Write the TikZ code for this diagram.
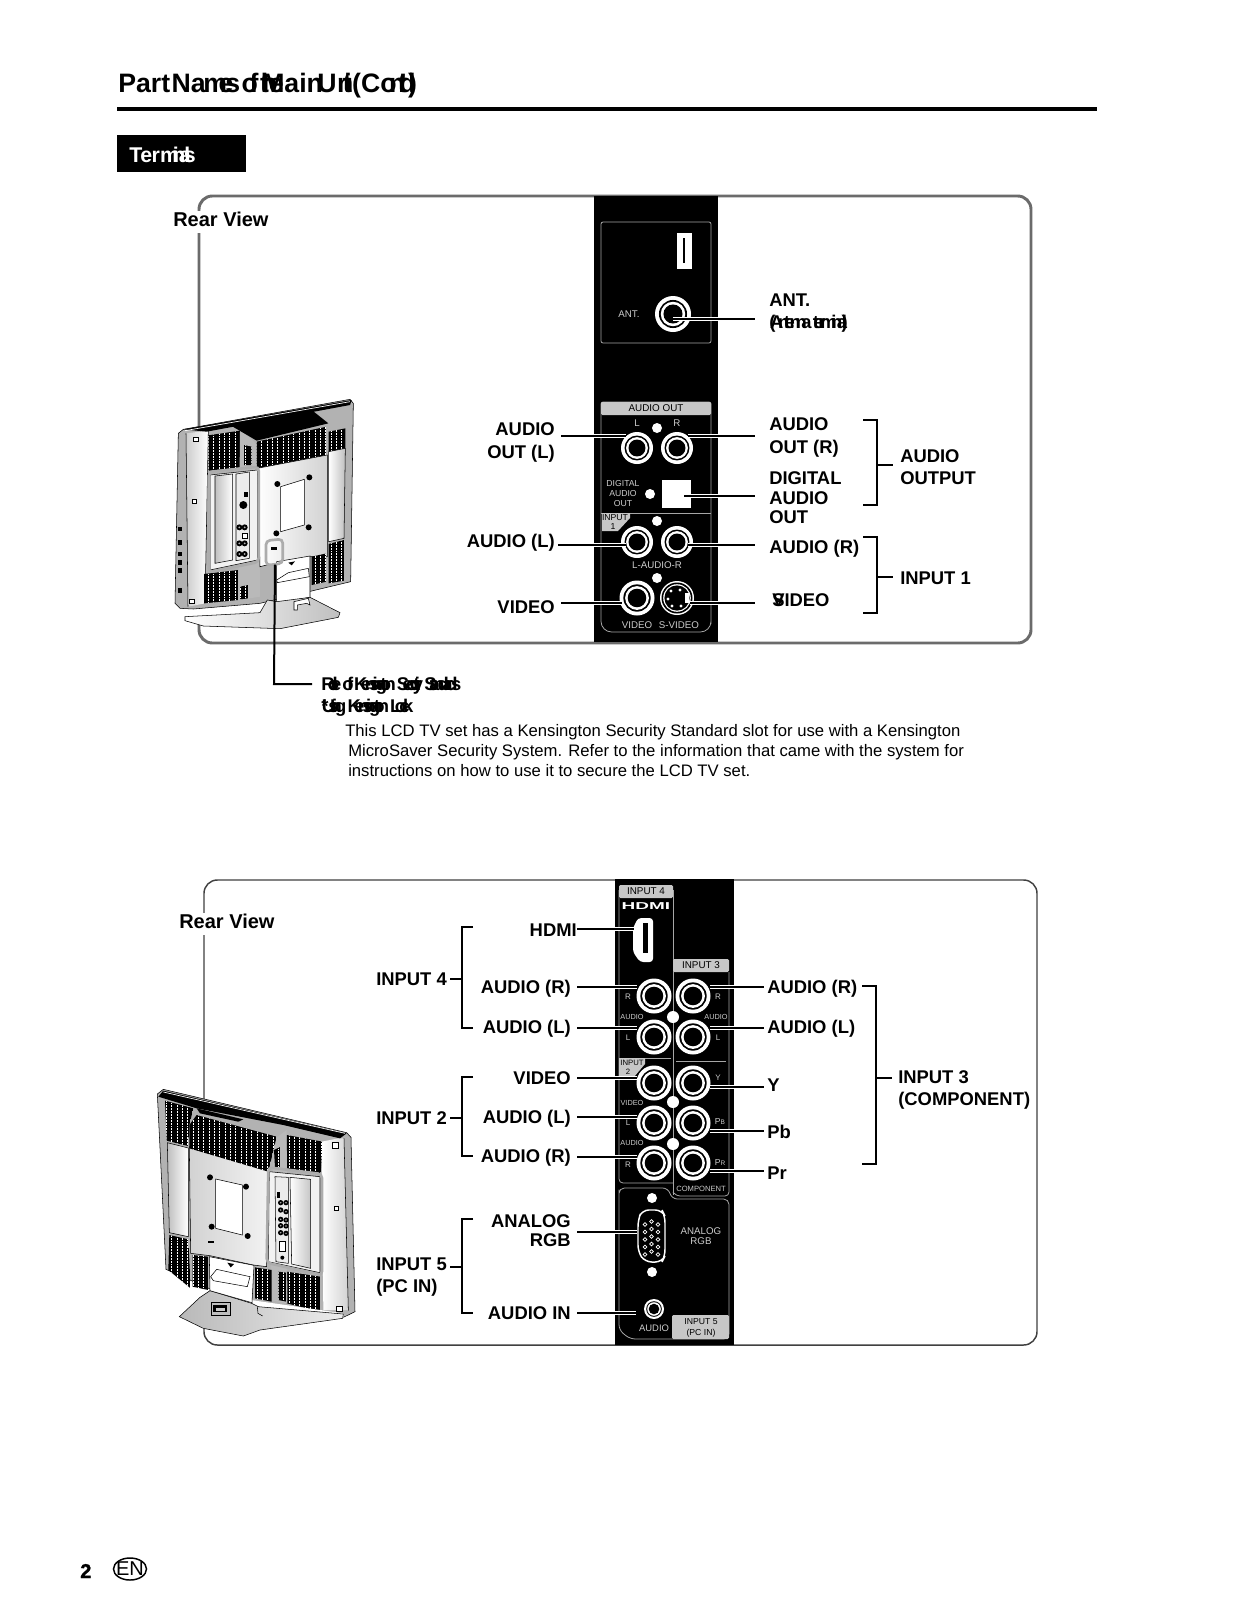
\documentclass[tikz,border=0pt]{standalone}
\usepackage{fontspec}
\usepackage{graphicx}
\setmainfont{Liberation Sans}
\newlength{\pxu}\setlength{\pxu}{.75pt}
\newcommand\seg[3]{\makebox[#1\pxu][l]{\addfontfeature{LetterSpace=#2}\spaceskip=.06em #3}}
\definecolor{frameg}{gray}{.42}
\definecolor{hdr}{gray}{.78}
\definecolor{ptxt}{gray}{.8}
\tikzset{
 lab/.style={font=\bfseries\fontsize{13.8}{16}\selectfont,inner sep=0,anchor=base west},
 labr/.style={lab,anchor=base east},
 ptx/.style={font=\fontsize{7.3}{8}\selectfont,text=ptxt,inner sep=0,anchor=center},
 pts/.style={ptx,font=\fontsize{6}{6}\selectfont},
 ptk/.style={font=\fontsize{7.4}{8}\selectfont,text=black,inner sep=0,anchor=center},
 pline/.style={draw=gray!70,line width=.6pt},
 lead/.style={line width=1.5pt,black},
 halo/.style={line width=3.2pt,white},
 brk/.style={line width=1.5pt,black},
 tvl/.style={line width=.4pt,black},
 hl/.style={draw=gray!65,line width=1.6pt,rounded corners=2pt},
}
\newcommand\jack[4]{\coordinate (#1) at (#2,#3);
 \fill[white] (#1) circle[radius=#4];
 \fill[black] (#1) circle[radius=.78*#4];
 \fill[white] (#1) circle[radius=.68*#4];
 \fill[black] (#1) circle[radius=.53*#4];}
\newcommand\dotw[3]{\coordinate (#1) at (#2,#3); \fill[white] (#1) circle[radius=5];}
\newcommand\conn[4]{\coordinate (#1a) at (#2,#4); \coordinate (#1b) at (#3,#4);
 \draw[halo] (#1a)--(#1b); \draw[lead] (#1a)--(#1b);}
\newcommand\brkR[6]{\coordinate (#1t) at (#2,#4); \coordinate (#1b) at (#2,#5); \coordinate (#1m) at (#3,#6);
 \draw[brk,line join=miter] (#1t)--++(14,0)--++(0,#5-#4)--(#1b);
 \draw[brk] (#3,#6)--++(16,0);}
\newcommand\brkL[5]{\coordinate (#1t) at (473,#2); \coordinate (#1b) at (473,#3);
 \draw[brk,line join=miter] (#1t)--(462,#2)--(462,#3)--(#1b);
 \draw[brk] (462,#4)--(#5,#4);}
\newcommand\grille[1]{\begin{scope}\clip #1 -- cycle; \fill[black] #1 -- cycle;
 \foreach \g in {0,16,...,640}{\draw[white,line width=.15pt,densely dotted] (\g,0)--(\g,800);}\end{scope}}
\begin{document}
\begin{tikzpicture}[x=.75pt,y=-.75pt]
\useasboundingbox (0,0) rectangle (1237,1600);
\fill[white] (0,0) rectangle (1237,1600);
% heading
\node[lab,font=\bfseries\fontsize{20}{22}\selectfont] (title) at (118,92)
 {\seg{85}{0}{Part Na}\seg{59}{-31}{mes of the}\seg{55}{0}{Main}\seg{20}{0}{U}\seg{15}{-34}{nit}\seg{28}{0}{(C}\seg{35}{-28}{ont'd)}};
\draw[line width=3pt] (117,109)--(1097,109);
\fill[black] (117,135) rectangle (246,172);
\node[lab,text=white,font=\bfseries\fontsize{16}{18}\selectfont] (term) at (129,162) {\seg{31}{-2}{Ter}\seg{33}{-30}{minals}};
% upper frame
\draw[frameg,line width=2.2pt,rounded corners=10pt] (199,196) rectangle (1031,643);
\node[lab,fill=white,font=\bfseries\fontsize{15}{16}\selectfont,text height=11pt,text depth=5pt] (rv1) at (173,226) {Rear View};
% upper panel
\fill[black] (594,196) rectangle (718,642);
\draw[pline,rounded corners=1.5pt] (601,222) rectangle (711,343);
\fill[white] (677,233) rectangle (692,269);
\draw[black,line width=.8pt] (684,238)--(684,263);
\node[ptx] (pant) at (629,314) {ANT.};
\jack{jant}{673}{314}{18}
\draw[pline,rounded corners=1.5pt] (601,515)--(601,402)--(711,402)--(711,622) [rounded corners=8pt] --(711,632)--(601,632) [sharp corners] --(601,515);
\fill[hdr,rounded corners=1pt] (601,402) rectangle (711,415);
\node[ptk] (pao) at (656,408.5) {AUDIO OUT};
\node[ptx] (pl) at (637,423) {L};
\node[ptx] (pr) at (677,423) {R};
\dotw{d1}{657}{428}
\jack{j1}{637}{448}{16}
\jack{j2}{677}{448}{16}
\node[ptx,font=\fontsize{6.5}{7}\selectfont] (pd1) at (623,484) {DIGITAL};
\node[ptx,font=\fontsize{6.5}{7}\selectfont] (pd2) at (623,494) {AUDIO};
\node[ptx,font=\fontsize{6.5}{7}\selectfont] (pd3) at (623,504) {OUT};
\dotw{d2}{650}{494}
\node[fill=white,minimum width=21.7pt,minimum height=21pt,inner sep=0] (dig) at (676.5,494) {};
\draw[pline] (601,513)--(711,513);
\fill[hdr] (602,513)--(630,513)--(630,518)--(618,531)--(602,531)--cycle;
\dotw{d3}{657}{521}
\jack{j3}{637}{542}{16}
\jack{j4}{677}{542}{16}
\node[ptk,font=\fontsize{6.5}{7}\selectfont] (pi1) at (615,518) {INPUT};
\node[ptk,font=\fontsize{6.5}{7}\selectfont] (pi2) at (613,527) {1};
\node[ptx] (plr) at (657,565) {L-AUDIO-R};
\dotw{d4}{657}{578}
\jack{j5}{637}{598}{17.5}
\coordinate (sv) at (677,598);
\fill[white] (sv) circle[radius=17];\fill[black] (sv) circle[radius=15.5];
\fill[white] (sv) circle[radius=13.8];\fill[black] (sv) circle[radius=12.6];
\foreach \a/\b in {-6/-7,3/-8,-9/1,-5/8,4/8}{\fill[white] (677+\a,598+\b) circle[radius=1.7];}
\fill[white] (685,593) rectangle (689,603);
\node[ptx] (pv) at (637,625) {VIDEO};
\node[ptx] (psv) at (679,625) {S-VIDEO};
% upper connectors
\conn{ca}{673}{755}{319}
\conn{cb}{561}{626}{436}
\conn{cc}{688}{755}{436}
\conn{cd}{684}{755}{496}
\conn{ce}{558}{626}{545}
\conn{cf}{688}{755}{545}
\conn{cg}{561}{622}{603}
\conn{ch}{690}{755}{603}
% upper labels
\node[lab] (l1) at (769,306) {ANT.};
\node[lab] (l2) at (769,328) {\seg{83}{-29}{(Antenna terminal)}};
\node[labr] (l3) at (555,435) {AUDIO};
\node[labr] (l4) at (555,458) {OUT (L)};
\node[lab] (l5) at (769,430) {AUDIO};
\node[lab] (l6) at (769,453) {OUT (R)};
\node[lab] (l7) at (769,484) {DIGITAL};
\node[lab] (l8) at (769,504) {AUDIO};
\node[lab] (l9) at (769,523) {OUT};
\node[labr] (l10) at (555,547) {AUDIO (L)};
\node[lab] (l11) at (769,553) {AUDIO (R)};
\node[labr] (l12) at (555,613) {VIDEO};
\node[lab] (l13) at (772,606) {\seg{0}{-45}{S-}VIDEO};
\brkR{b1}{863}{877}{420}{505}{465}
\brkR{b2}{863}{877}{537}{613}{577}
\node[lab] (l14) at (900,462) {AUDIO};
\node[lab] (l15) at (900,484) {OUTPUT};
\node[lab] (l16) at (900,584) {INPUT 1};
% upper TV
\begin{scope}[shift={(160,390)},x=.25pt,y=-.25pt]
 \fill[white] (60,125)--(570,30)--(578,40)--(568,575)--(350,715)--(70,690)--(48,650)--cycle;
 \draw[tvl,fill=gray!60] (55,130)--(70,118)--(570,28)--(580,40)--(572,575)--(300,640)--(100,657)--(60,655)--(45,640)--cycle;
 \shade[left color=gray!40,right color=white] (78,130)--(145,122)--(135,640)--(84,650)--cycle;
 \draw[tvl] (78,130)--(84,650); \draw[tvl] (145,122)--(135,640);
 \grille{(145,136)--(240,122)--(240,232)--(145,242)}
 \grille{(132,552)--(235,540)--(235,630)--(132,640)}
 \fill[gray!55] (245,120)--(292,165)--(292,235)--(300,230)--(300,620)--(235,630)--(240,125)--cycle;
 \grille{(252,165)--(275,170)--(275,225)--(252,225)}
 \grille{(240,590)--(265,585)--(265,625)--(240,628)}
 \fill[black] (140,125)--(570,45)--(575,30)--(70,118)--cycle;
 \draw[white,line width=.5pt] (75,122)--(570,35);
 \grille{(290,155)--(500,110)--(500,195)--(290,235)}
 \fill[black] (215,108)--(455,60)--(505,100)--(290,152)--cycle;
 \grille{(506,125)--(556,115)--(556,175)--(506,185)}
 \shade[draw=black,line width=.4pt,left color=white,right color=gray!50] (506,185)--(556,175)--(552,445)--(506,455)--cycle;
 \grille{(506,462)--(552,450)--(552,572)--(506,580)}
 \shade[draw=black,line width=.4pt,left color=white,right color=gray!35] (292,235)--(502,195)--(502,500)--(450,500)--(370,520)--(320,525)--(300,530)--cycle;
 \draw[tvl,fill=white] (362,290)--(433,268)--(433,405)--(362,425)--cycle;
 \foreach \p/\q in {352/282,448/262,349/430,446/412}{\fill[black] (\p,\q) circle[radius=9];}
 % highlight box
 \draw[tvl,fill=gray!10] (150,255)--(292,240)--(292,510)--(150,540)--cycle;
 \shade[draw=black,line width=.4pt,left color=gray!50,right color=white] (165,258)--(218,252)--(218,510)--(165,520)--cycle;
 \draw[tvl,fill=gray!15] (228,252)--(268,246)--(268,505)--(228,512)--cycle;
 \fill[black] (253,305) rectangle (264,322);
 \fill[black] (250,345) circle[radius=12];
 \foreach \p/\q in {238/412,254/412,238/460,254/460,238/492,254/492}{\fill[black] (\p,\q) circle[radius=9];\fill[gray!60] (\p,\q) circle[radius=3];}
 \draw[tvl,fill=white] (246,430) rectangle (262,444);
 \draw[hl,line width=2pt,rounded corners=3pt] (146,246)--(296,230)--(296,516)--(146,547)--cycle;
 % stand
 \draw[tvl,fill=white] (350,515)--(450,498)--(450,622)--(350,640)--cycle;
 \grille{(455,500)--(500,490)--(500,575)--(455,585)}
 \fill[black] (385,518)--(405,514)--(395,526)--cycle;
 \draw[tvl,fill=white] (350,570)--(385,548)--(445,535)--(448,560)--(352,578)--cycle;
 \shade[draw=black,line width=.4pt,left color=white,right color=gray!50] (75,680)--(300,668)--(322,630)--(350,635)--(450,622)--(540,668)--(535,682)--(360,716)--(130,708)--(75,692)--cycle;
 \draw[tvl,fill=white] (402,660)--(402,635)--(445,625)--(450,645)--(440,640)--(412,645)--(412,660)--cycle;
 \draw[hl,fill=none,line width=2pt,rounded corners=3pt] (318,452)--(368,447)--(368,520)--(318,526)--cycle;
 \fill[black] (332,472) rectangle (352,480);
 \foreach \p/\q in {108/147,103/335,96/635}{\draw[tvl,fill=white] (\p-7,\q-6) rectangle (\p+7,\q+6);}
 \foreach \q in {410,450,485,510,535,595}{\fill[black] (55,\q) rectangle (67,\q+14);}
 \coordinate (kens) at (345,524);
\end{scope}
\coordinate (kc) at (274,684);
\coordinate (ke) at (312,684);
\draw[line width=1.5pt,line join=miter] (kens)--(kc)--(ke);
\node[lab] (k1) at (321,690) {\seg{137}{-36}{Role of Kensington Security Standards}};
\node[lab] (k2) at (321,712) {\seg{84}{-36}{*Using Kensington Lock}};
\node[inner sep=0,anchor=base west,font=\fontsize{12.5}{14}\selectfont] (p1) at (345,736) {This LCD TV set has a Kensington Security Standard slot for use with a Kensington};
\node[inner sep=0,anchor=base west,font=\fontsize{12.5}{14}\selectfont] (p2) at (348,756) {MicroSaver Security System. Refer to the information that came with the system for};
\node[inner sep=0,anchor=base west,font=\fontsize{12.5}{14}\selectfont] (p3) at (348,776) {instructions on how to use it to secure the LCD TV set.};
% lower frame
\draw[black!75,line width=1.1pt,rounded corners=10pt] (204,880) rectangle (1037,1345);
\node[lab,fill=white,font=\bfseries\fontsize{15}{16}\selectfont,text height=11pt,text depth=5pt] (rv2) at (179,928) {Rear View};
% lower panel
\fill[black] (615,879) rectangle (734,1345);
\draw[pline] (673,890)--(673,1195);
\draw[pline,rounded corners=3pt] (619,890)--(619,1183)--(673,1183);
\fill[hdr,rounded corners=1pt] (619,885) rectangle (673,898);
\node[ptk] (pi4) at (646,891.5) {INPUT 4};
\node[inner sep=0,text=white,font=\bfseries\fontsize{7.5}{8}\selectfont] (phd) at (646,906) {\scalebox{1.9}[1]{HDMI}};
\fill[hdr,rounded corners=1pt] (673,959) rectangle (729,972);
\node[ptk] (pi3) at (701,965.5) {INPUT 3};
\draw[pline,rounded corners=3pt] (729,972)--(729,1196)--(676,1196)--(673,1192);
\fill[white,rounded corners=2.5pt] (638,918)--(653,918)--(653,962)--(640,962)--(633,952)--(633,928)--cycle;
\fill[black] (643,923) rectangle (648,953);
\node[pts] (q1) at (628,997) {R};
\node[pts,font=\fontsize{5.5}{6}\selectfont] (q2) at (632,1017) {AUDIO};
\node[pts] (q3) at (628,1038) {L};
\node[pts] (q4) at (718,997) {R};
\node[pts,font=\fontsize{5.5}{6}\selectfont] (q5) at (716,1017) {AUDIO};
\node[pts] (q6) at (718,1038) {L};
\node[pts] (q7) at (718,1078) {Y};
\draw[pline] (619,1058)--(671,1058);
\draw[pline] (676,1061)--(726,1061);
\fill[hdr] (619,1058)--(645,1058)--(645,1064)--(634,1077)--(619,1077)--cycle;
\node[ptk,font=\fontsize{5.8}{6}\selectfont] (q8) at (632,1063) {INPUT};
\node[ptk,font=\fontsize{5.8}{6}\selectfont] (q9) at (628,1072) {2};
\node[pts,font=\fontsize{5.5}{6}\selectfont] (q10) at (632,1103) {VIDEO};
\node[pts] (q11) at (628,1123) {L};
\node[pts,font=\fontsize{5.5}{6}\selectfont] (q12) at (632,1143) {AUDIO};
\node[pts] (q13) at (628,1165) {R};
\node[pts,font=\fontsize{6.5}{7}\selectfont] (q14) at (720,1122) {P\scalebox{.75}{B}};
\node[pts,font=\fontsize{6.5}{7}\selectfont] (q15) at (720,1163) {P\scalebox{.75}{R}};
\node[pts,font=\fontsize{5.7}{6}\selectfont] (q16) at (701,1189) {COMPONENT};
\foreach \n/\x/\y in {a/654/996,b/693/996,c/654/1037,e/693/1037,f/654/1083,g/693/1083,h/654/1123,i/693/1123,m/654/1163,n/693/1163}{\jack{s\n}{\x}{\y}{17.5}}
\dotw{e1}{673}{1017}\fill[white] (e1) circle[radius=6];
\dotw{e2}{673}{1102}\fill[white] (e2) circle[radius=6];
\dotw{e3}{673}{1144}\fill[white] (e3) circle[radius=6];
\draw[pline,rounded corners=4pt] (619,1195)--(619,1188)--(668,1188)--(672,1199)--(729,1199)--(729,1339)--(630,1339)--(619,1330)--cycle;
\dotw{e4}{652}{1198}
\dotw{e5}{652}{1272}
\coordinate (vga) at (652,1236);
\draw[white,line width=1.1pt,fill=black,rounded corners=5pt] (642,1210)--(662,1210)--(665,1216)--(665,1256)--(662,1262)--(645,1262)--(638,1252)--(638,1220)--cycle;
\foreach \cc/\o/\n in {645/1222/5,651.5/1219/5,658/1222/5}{\foreach \k in {1,...,\n}{\draw[white,line width=.5pt] (\cc,\o+7.5*\k-5) circle[radius=1.9];}}
\node[ptx] (q17) at (701,1231) {ANALOG};
\node[ptx] (q18) at (701,1241) {RGB};
\jack{saudio}{654}{1309}{10}
\node[ptx,font=\fontsize{7.1}{8}\selectfont] (q19) at (654,1328) {AUDIO};
\fill[hdr,rounded corners=1pt] (672,1315) rectangle (729,1339);
\node[ptk,font=\fontsize{6.5}{8}\selectfont] (q20) at (701,1322) {INPUT 5};
\node[ptk,font=\fontsize{6.5}{8}\selectfont] (q21) at (701,1333) {(PC IN)};
% lower connectors
\conn{da}{577}{634}{929}
\conn{db}{577}{637}{987}
\conn{dc}{577}{637}{1028}
\conn{dd}{577}{637}{1078}
\conn{de}{577}{637}{1117}
\conn{df}{577}{637}{1157}
\conn{dg}{577}{637}{1232}
\conn{dh}{577}{636}{1313}
\conn{di}{710}{764}{987}
\conn{dj}{710}{764}{1028}
\conn{dk}{710}{764}{1087}
\conn{dl}{710}{764}{1131}
\conn{dm}{710}{764}{1171}
% lower labels
\node[labr] (m1) at (577,936) {HDMI};
\node[labr] (m2) at (571,993) {AUDIO (R)};
\node[labr] (m3) at (571,1033) {AUDIO (L)};
\node[labr] (m4) at (571,1084) {VIDEO};
\node[labr] (m5) at (571,1123) {AUDIO (L)};
\node[labr] (m6) at (571,1162) {AUDIO (R)};
\node[labr] (m7) at (571,1227) {ANALOG};
\node[labr] (m8) at (571,1246) {RGB};
\node[labr] (m9) at (571,1319) {AUDIO IN};
\node[lab] (m10) at (376,985) {INPUT 4};
\node[lab] (m11) at (376,1124) {INPUT 2};
\node[lab] (m12) at (376,1270) {INPUT 5};
\node[lab] (m13) at (376,1292) {(PC IN)};
\brkL{g1}{927}{1028}{979}{450}
\brkL{g2}{1077}{1156}{1118}{450}
\brkL{g3}{1219}{1313}{1267}{450}
\node[lab] (m14) at (767,993) {AUDIO (R)};
\node[lab] (m15) at (767,1033) {AUDIO (L)};
\node[lab] (m16) at (767,1091) {Y};
\node[lab] (m17) at (767,1138) {Pb};
\node[lab] (m18) at (767,1179) {Pr};
\brkR{b3}{862}{876}{986}{1164}{1078}
\node[lab] (m19) at (898,1083) {INPUT 3};
\node[lab] (m20) at (898,1105) {(COMPONENT)};
% lower TV
\begin{scope}[shift={(150,1080)},x=.25pt,y=-.25pt]
 \fill[white] (22,40)--(600,165)--(615,700)--(580,720)--(330,755)--(90,715)--(45,570)--cycle;
 \draw[tvl,fill=gray!60] (22,42)--(40,28)--(590,158)--(603,172)--(615,695)--(580,712)--(300,680)--(48,568)--cycle;
 \shade[left color=white,right color=gray!35] (515,185)--(565,175)--(582,175)--(595,690)--(520,690)--cycle;
 \draw[tvl] (582,175)--(595,692);
 \draw[tvl,fill=white] (548,188) rectangle (564,204);
 \draw[tvl,fill=white] (552,378) rectangle (564,390);
 \draw[tvl,fill=white] (560,680) rectangle (578,694);
 \fill[black] (25,50)--(40,32)--(590,160)--(570,175)--(400,135)--(140,85)--cycle;
 \draw[white,line width=.5pt] (40,36)--(585,160);
 \grille{(45,62)--(130,85)--(118,135)--(115,198)--(50,182)}
 \shade[draw=black,line width=.4pt,left color=gray!50,right color=white] (52,188)--(115,204)--(115,470)--(58,458)--cycle;
 \grille{(58,465)--(115,478)--(122,625)--(55,570)}
 \grille{(410,165)--(518,185)--(512,280)--(410,265)}
 \grille{(410,575)--(512,590)--(512,695)--(410,670)}
 \fill[gray!55] (370,180)--(410,150)--(412,670)--(360,660)--cycle;
 \grille{(372,210)--(392,200)--(392,260)--(375,262)}
 \grille{(385,575)--(410,578)--(410,665)--(385,660)}
 \shade[draw=black,left color=gray!35,right color=gray!10,line width=.4pt] (118,200)--(355,272)--(350,560)--(310,555)--(180,527)--(122,520)--cycle;
 \grille{(118,135)--(140,105)--(380,170)--(355,275)--(118,205)}
 \fill[black] (140,85)--(280,118)--(265,125)--(150,100)--cycle;
 \draw[tvl,fill=white] (197,297)--(277,315)--(277,465)--(197,445)--cycle;
 \foreach \p/\q in {180/292,288/320,185/440,293/468}{\fill[black] (\p,\q) circle[radius=9];}
 \fill[black] (175,482) rectangle (193,490);
 \grille{(128,525)--(175,530)--(175,630)--(128,620)}
 \grille{(315,562)--(365,570)--(365,665)--(315,655)}
 \draw[tvl,fill=gray!10] (358,275)--(510,290)--(510,578)--(355,545)--cycle;
 \shade[draw=black,line width=.4pt,left color=white,right color=gray!45] (420,292)--(482,298)--(482,565)--(425,552)--cycle;
 \draw[tvl,fill=gray!15] (375,290)--(415,292)--(415,550)--(378,545)--cycle;
 \fill[black] (380,335) rectangle (389,355);
 \foreach \p/\q in {392/368,408/368,392/390,408/395,392/418,408/420,392/437,408/438,392/458,408/460}{\fill[black] (\p,\q) circle[radius=8];\fill[gray!60] (\p,\q) circle[radius=2.5];}
 \draw[tvl,fill=white] (387,483) rectangle (405,515);
 \fill[black] (397,533) circle[radius=6];
 \draw[hl,line width=2pt,rounded corners=3pt] (355,262)--(516,282)--(516,586)--(350,548)--cycle;
 \fill[white] (302,660)--(580,700)--(580,715)--(320,750)--(260,700)--cycle;
 \shade[draw=black,line width=.4pt,left color=gray!55,right color=gray!15] (88,710)--(150,652)--(180,632)--(305,670)--(325,680)--(580,702)--(578,715)--(330,750)--(280,768)--(160,745)--cycle;
 \draw[tvl,fill=white] (178,530)--(312,556)--(306,668)--(180,632)--cycle;
 \fill[black] (232,548)--(252,552)--(242,562)--cycle;
 \draw[tvl,fill=white] (182,590)--(200,568)--(300,590)--(292,620)--(190,602)--cycle;
 \draw[tvl,fill=gray!50] (183,668) rectangle (240,705);
 \fill[black] (190,676) rectangle (232,697);
 \fill[gray!40] (197,683) rectangle (225,692);
 \draw[tvl] (322,680)--(324,700)--(338,708);
\end{scope}
% footer
\node[lab,font=\bfseries\fontsize{15}{16}\selectfont\addfontfeature{FakeBold=1.5}] (pg) at (80,1578) {2};
\draw[line width=1.1pt] (130,1569) ellipse[x radius=16.5,y radius=11];
\node[inner sep=0,font=\fontsize{15}{16}\selectfont] (en) at (130,1569) {EN};
\end{tikzpicture}
\end{document}
